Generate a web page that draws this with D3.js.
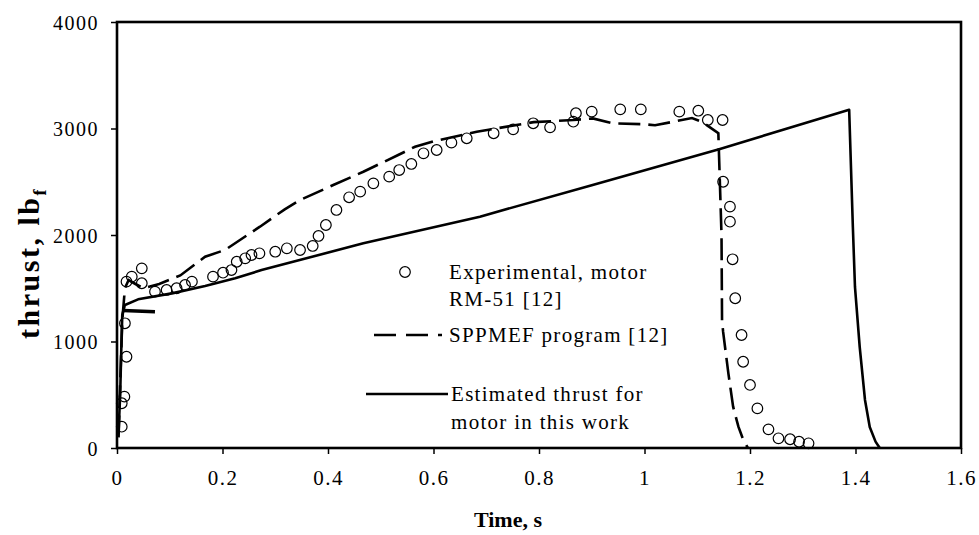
<!DOCTYPE html>
<html>
<head>
<meta charset="utf-8">
<script src="https://cdn.jsdelivr.net/npm/d3@7/dist/d3.min.js"></script>
<style>
  html, body { margin: 0; padding: 0; background: #fff; }
  svg { display: block; }
  text { font-family: "Liberation Serif", "Times New Roman", serif; fill: #000; }
</style>
</head>
<body>
<svg id="chart" width="979" height="535"></svg>
<script>
// ---------- data ----------
const xTicks = [0, 0.2, 0.4, 0.6, 0.8, 1, 1.2, 1.4, 1.6];
const xTickLabels = ["0", "0.2", "0.4", "0.6", "0.8", "1", "1.2", "1.4", "1.6"];
const yTicks = [0, 1000, 2000, 3000, 4000];
const yTickLabels = ["0", "1000", "2000", "3000", "4000"];

// Experimental, motor RM-51 [12]
const expTime = [0.009, 0.009, 0.014, 0.018, 0.015, 0.018, 0.028, 0.047, 0.047, 0.072, 0.094, 0.113, 0.129, 0.142,
  0.182, 0.201, 0.217, 0.227, 0.243, 0.255, 0.270, 0.300, 0.322, 0.347, 0.371, 0.382, 0.396, 0.416, 0.440, 0.461,
  0.486, 0.516, 0.535, 0.558, 0.581, 0.606, 0.634, 0.663, 0.714, 0.751, 0.789, 0.821, 0.865, 0.870, 0.900, 0.954,
  0.993, 1.066, 1.102, 1.120, 1.148, 1.149, 1.162, 1.162, 1.167, 1.172, 1.184, 1.187, 1.200, 1.214, 1.235, 1.254,
  1.276, 1.293, 1.311];
const expThrust = [200, 420, 482, 857, 1171, 1562, 1609, 1687, 1547, 1468, 1484, 1500, 1531, 1562,
  1609, 1646, 1671, 1749, 1781, 1812, 1828, 1843, 1875, 1859, 1897, 1991, 2094, 2235, 2354, 2407,
  2485, 2548, 2610, 2667, 2767, 2798, 2867, 2908, 2955, 2992, 3049, 3011, 3064, 3143, 3158, 3180,
  3180, 3158, 3167, 3080, 3080, 2500, 2266, 2125, 1772, 1406, 1061, 810, 592, 372, 175, 91,
  82, 59, 44];

// SPPMEF program [12]
const sppTime = [0.003, 0.006, 0.010, 0.015, 0.022, 0.035, 0.050, 0.080, 0.120, 0.167, 0.205, 0.271, 0.318, 0.347,
  0.410, 0.467, 0.533, 0.565, 0.600, 0.682, 0.790, 0.865, 0.902, 0.941, 1.000, 1.020, 1.090, 1.110, 1.140,
  1.146, 1.147, 1.149, 1.159, 1.168, 1.178, 1.187, 1.196];
const sppThrust = [100, 600, 1200, 1500, 1577, 1540, 1500, 1540, 1620, 1796, 1860, 2078, 2241, 2329,
  2469, 2594, 2751, 2829, 2880, 2970, 3060, 3080, 3095, 3048, 3040, 3030, 3098, 3060, 2955,
  2000, 1200, 1092, 701, 388, 200, 80, 0];

// Estimated thrust for motor in this work
const estTime = [0.003, 0.006, 0.008, 0.010, 0.015, 0.040, 0.104, 0.167, 0.224, 0.274, 0.467, 0.688, 0.900,
  1.143, 1.388, 1.395, 1.399, 1.408, 1.418, 1.427, 1.438, 1.446];
const estThrust = [150, 500, 900, 1250, 1343, 1396, 1452, 1521, 1593, 1671, 1922, 2172, 2468,
  2808, 3175, 2075, 1512, 948, 451, 197, 60, 0];
// short ignition segment of the estimated curve
const estStartTime = [0.012, 0.072];
const estStartThrust = [1290, 1280];

const legendLabels = [["Experimental, motor", "RM-51 [12]"], ["SPPMEF program [12]"], ["Estimated thrust for", "motor in this work"]];

// ---------- layout ----------
const svg = d3.select("#chart");
const x = d3.scaleLinear().domain([0, 1.6]).range([117, 961]);
const y = d3.scaleLinear().domain([0, 4000]).range([448, 22]);

const line = d3.line().x(d => x(d[0])).y(d => y(d[1]));
const zip = (a, b) => a.map((v, i) => [v, b[i]]);

// curves
svg.append("path").datum(zip(estTime, estThrust)).attr("d", line)
  .attr("fill", "none").attr("stroke", "#000").attr("stroke-width", 2.6).attr("stroke-linejoin", "round");
svg.append("path").datum(zip(estStartTime, estStartThrust)).attr("d", line)
  .attr("fill", "none").attr("stroke", "#000").attr("stroke-width", 3.5);
svg.append("path").datum(zip(sppTime, sppThrust)).attr("d", line)
  .attr("fill", "none").attr("stroke", "#000").attr("stroke-width", 2.6)
  .attr("stroke-dasharray", "22,8");

svg.append("g").selectAll("circle").data(zip(expTime, expThrust)).join("circle")
  .attr("cx", d => x(d[0])).attr("cy", d => y(d[1])).attr("r", 5.3)
  .attr("fill", "none").attr("stroke", "#000").attr("stroke-width", 1.2);

// axes
const xAxis = d3.axisBottom(x).tickValues(xTicks).tickSize(6).tickFormat((d, i) => xTickLabels[i]);
const yAxis = d3.axisLeft(y).tickValues(yTicks).tickSize(6).tickFormat((d, i) => yTickLabels[i]);

const gx = svg.append("g").attr("transform", "translate(0,448)").call(xAxis);
const gy = svg.append("g").attr("transform", "translate(117,0)").call(yAxis);
[gx, gy].forEach(g => {
  g.select(".domain").remove();
  g.selectAll(".tick line").attr("stroke", "#000").attr("stroke-width", 1.5);
  g.selectAll(".tick text").style("font-family", "'Liberation Serif', serif")
    .style("font-size", "20px").style("letter-spacing", "1.5px").attr("fill", "#000");
});
gx.selectAll(".tick text").style("font-size", "21px").attr("dy", null).attr("y", 37);
gy.selectAll(".tick text").attr("x", -18).attr("dy", "0.35em");

// frame
svg.append("rect").attr("x", x(0)).attr("y", y(4000))
  .attr("width", x(1.6) - x(0)).attr("height", y(0) - y(4000))
  .attr("fill", "none").attr("stroke", "#000").attr("stroke-width", 2.6);

// axis titles
svg.append("text").attr("x", (x(0) + x(1.6)) / 2 - 31).attr("y", 527)
  .attr("text-anchor", "middle").style("font-weight", "bold").style("font-size", "22px")
  .text("Time, s");
const yt = svg.append("text").attr("transform", "translate(39,263) rotate(-90)")
  .attr("text-anchor", "middle").style("font-weight", "bold").style("font-size", "30px")
  .style("letter-spacing", "2.5px");
yt.append("tspan").text("thrust, lb");
yt.append("tspan").attr("dy", 7).style("font-size", "18px").text("f");

// legend
const lg = svg.append("g").style("font-size", "21px").style("letter-spacing", "1.3px");
lg.append("circle").attr("cx", 405).attr("cy", 272).attr("r", 5.3)
  .attr("fill", "none").attr("stroke", "#000").attr("stroke-width", 1.2);
lg.append("text").attr("x", 449).attr("y", 279).text(legendLabels[0][0]);
lg.append("text").attr("x", 449).attr("y", 306).text(legendLabels[0][1]);
lg.append("line").attr("x1", 372).attr("x2", 442).attr("y1", 335).attr("y2", 335)
  .attr("stroke", "#000").attr("stroke-width", 2.6).attr("stroke-dasharray", "22,10")
  .attr("stroke-dashoffset", -2);
lg.append("text").attr("x", 449).attr("y", 342).text(legendLabels[1][0]);
lg.append("line").attr("x1", 366).attr("x2", 448).attr("y1", 394).attr("y2", 394)
  .attr("stroke", "#000").attr("stroke-width", 2.4);
lg.append("text").attr("x", 451).attr("y", 401).text(legendLabels[2][0]);
lg.append("text").attr("x", 451).attr("y", 429).text(legendLabels[2][1]);
</script>
</body>
</html>
